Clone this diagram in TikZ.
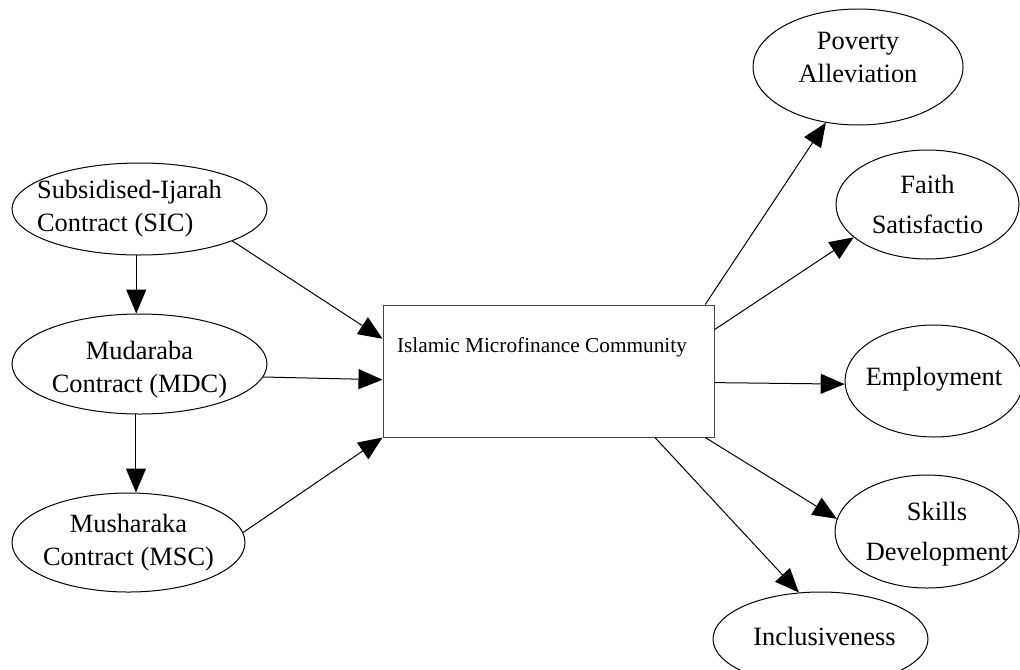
\documentclass[tikz,border=0pt]{standalone}
\usepackage{fontspec}
\setmainfont{Liberation Serif}
\usetikzlibrary{arrows.meta, positioning, shapes.geometric}
\definecolor{framegray}{RGB}{70, 70, 70}

\begin{document}
\begin{tikzpicture}[
    x=0.5pt, y=-0.5pt,
    oval/.style={draw, ellipse, inner sep=0pt, line width=0.5pt},
    txt/.style={inner sep=0pt, align=center, font=\fontsize{13.2}{16.5}\selectfont},
    frame/.style={draw=framegray, rectangle, inner sep=0pt, line width=0.5pt,
                  minimum width=165.5pt, minimum height=66pt},
    arr/.style={-{Triangle[length=12pt, width=10pt]}, line width=0.5pt}
]
    \clip (0,0) rectangle (1020,669);

    % contracts
    \node[oval, minimum width=127.5pt, minimum height=46pt,
          label={[txt, align=left, xshift=-5pt]center:Subsidised-Ijarah\\Contract (SIC)}] (sic) at (139.5,209) {};
    \node[oval, minimum width=127.5pt, minimum height=50pt, below=29pt of sic,
          label={[txt, yshift=-3pt]center:Mudaraba\\Contract (MDC)}] (mdc) {};
    \node[oval, minimum width=116.5pt, minimum height=49.5pt, below=39pt of mdc, xshift=-5.5pt,
          label={[txt]center:Musharaka\\Contract (MSC)}] (msc) {};

    \node[frame, label={[inner sep=0pt, font=\fontsize{10.65}{13}\selectfont, xshift=-3.25pt, yshift=12pt]center:Islamic Microfinance Community}] (imc) at (548.5,371) {};

    % outcomes
    \node[oval, minimum width=105pt, minimum height=58pt,
          label={[txt, yshift=5pt]center:Poverty\\Alleviation}] (pov) at (858,67) {};
    \node[oval, minimum width=91.5pt, minimum height=54.5pt,
          label={[txt]center:Faith\\[3.5pt]Satisfactio}] (fth) at (927.5,204.5) {};
    \node[oval, minimum width=89pt, minimum height=56pt,
          label={[txt, yshift=0.75pt]center:Employment}] (emp) at (934,381) {};
    \node[oval, minimum width=92pt, minimum height=56.5pt,
          label={[txt, xshift=5pt, yshift=-1.5pt]center:Skills\\[3.5pt]Development}] (skl) at (927,531.5) {};
    \node[oval, minimum width=107.5pt, minimum height=47pt,
          label={[txt, xshift=2pt, yshift=1.5pt]center:Inclusiveness}] (inc) at (820.5,639) {};

    \draw[arr] (sic.266) -- (sic.266 |- mdc.north);
    \draw[arr] (mdc.266) -- (mdc.266 |- msc.north);
    \draw[arr] (sic.-19) -- (imc.169);
    \draw[arr] (mdc.-6) -- (imc.183);
    \draw[arr] (msc.5) -- (imc.south west);

    \draw[arr] (imc.23) -- (pov.240);
    \draw[arr] (imc.14) -- (fth.204);
    \draw[arr] (imc.-4) -- (emp.182);
    \draw[arr] (imc.-23) -- (skl.172);
    \draw[arr] (imc.-32) -- (inc.115);
\end{tikzpicture}
\end{document}
